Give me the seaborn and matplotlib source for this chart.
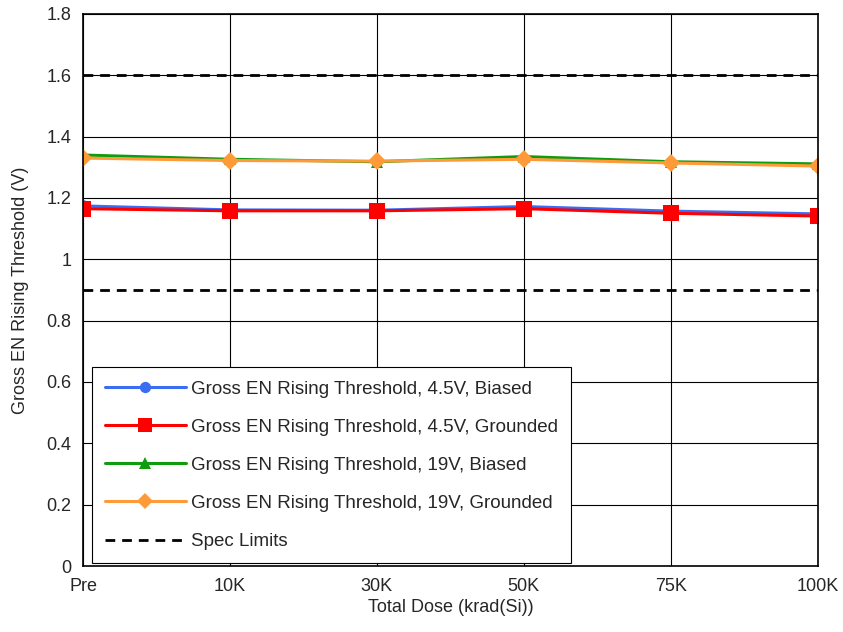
import pandas as pd
import matplotlib.pyplot as plt
import seaborn as sns

# Дані з графіка
doses = ["Pre", "10K", "30K", "50K", "75K", "100K"]
biased_45 = [1.174, 1.161, 1.160, 1.172, 1.157, 1.148]
grounded_45 = [1.165, 1.158, 1.158, 1.165, 1.150, 1.141]
biased_19 = [1.340, 1.326, 1.318, 1.335, 1.318, 1.311]
grounded_19 = [1.330, 1.322, 1.320, 1.326, 1.314, 1.304]
spec_low = 0.9
spec_high = 1.6

series = {
    "Gross EN Rising Threshold, 4.5V, Biased": biased_45,
    "Gross EN Rising Threshold, 4.5V, Grounded": grounded_45,
    "Gross EN Rising Threshold, 19V, Biased": biased_19,
    "Gross EN Rising Threshold, 19V, Grounded": grounded_19,
}
colors = ["#3a6cf4", "#ff0000", "#109c10", "#ff9a38"]
markers = ["o", "s", "^", "D"]
msizes = [9, 11, 9, 9]

rows = []
for name, vals in series.items():
    for i, (d, v) in enumerate(zip(doses, vals)):
        rows.append({"series": name, "pos": i, "dose": d, "value": v})
df = pd.DataFrame(rows)

sns.set_style("whitegrid", {"grid.color": "black", "axes.edgecolor": "black"})
plt.rcParams["font.family"] = ["Liberation Sans", "DejaVu Sans"]

fig = plt.figure(figsize=(8.43, 6.32), dpi=100)
ax = fig.add_axes([0.0985, 0.1044, 0.8715, 0.8736])

for (name, color, mk, ms) in zip(series.keys(), colors, markers, msizes):
    sub = df[df["series"] == name]
    sns.lineplot(data=sub, x="pos", y="value", color=color, marker=mk,
                 markersize=ms, markeredgewidth=0, linewidth=2.2,
                 label=name, ax=ax)

ax.axhline(spec_high, color="black", linestyle=(0, (3.5, 2.5)), linewidth=2, label="Spec Limits")
ax.axhline(spec_low, color="black", linestyle=(0, (3.5, 2.5)), linewidth=2)

ax.set_xlim(0, len(doses) - 1)
ax.set_ylim(0, 1.8)
ax.set_xticks(range(len(doses)))
ax.set_xticklabels(doses)
ax.set_yticks([0, 0.2, 0.4, 0.6, 0.8, 1, 1.2, 1.4, 1.6, 1.8])
ax.set_yticklabels(["0", "0.2", "0.4", "0.6", "0.8", "1", "1.2", "1.4", "1.6", "1.8"])
ax.tick_params(labelsize=13, pad=5)
ax.grid(True, color="black", linewidth=0.8)
for s in ax.spines.values():
    s.set_color("black")
    s.set_linewidth(1.2)

ax.set_xlabel("Total Dose (krad(Si))", fontsize=13, labelpad=3)
ax.set_ylabel("Gross EN Rising Threshold (V)", fontsize=13, labelpad=12)

leg = ax.legend(loc="lower left", bbox_to_anchor=(0.012, 0.005), fontsize=13.5,
                frameon=True, fancybox=False, framealpha=1, edgecolor="black",
                labelspacing=1.12, handlelength=4.3, borderpad=0.7,
                handletextpad=0.3, borderaxespad=0, markerscale=0.9)
leg.get_frame().set_linewidth(0.8)

plt.savefig("out.png", dpi=100)
plt.close()
